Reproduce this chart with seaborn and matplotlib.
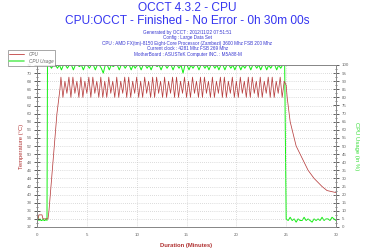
import numpy as np
import pandas as pd
import matplotlib
matplotlib.use('Agg')
import matplotlib.pyplot as plt
from matplotlib.ticker import MultipleLocator
from matplotlib.lines import Line2D
import seaborn as sns

# --- data ---
# temperature (C): idle, ramp, load (0.2 min samples), cool down
t_idle = [0.0, 0.1, 0.2, 0.3, 0.4, 0.5, 0.6, 0.7, 0.8, 0.9, 1.0, 1.1]
temp_idle = [34, 34, 35, 35, 35, 35, 34, 34, 34, 34, 34, 34]

t_ramp = [1.2, 1.3, 1.4, 1.5, 1.6, 1.7, 1.8, 1.9, 2.0, 2.1, 2.2, 2.3]
temp_ramp = [36, 39, 42, 45, 48, 51, 54, 57, 60, 62, 64, 66]

temp_load = [
    69, 64, 68, 65, 69, 64, 69, 65, 68, 64, 69, 64, 68, 65, 69, 64, 69, 65, 68, 64,
    69, 64, 68, 64, 69, 65, 68, 64, 69, 64, 68, 65, 69, 64, 69, 64, 68, 65, 69, 64,
    68, 64, 69, 65, 68, 64, 69, 64, 69, 65, 68, 64, 69, 64, 68, 65, 69, 64, 69, 64,
    68, 65, 69, 64, 68, 64, 69, 65, 68, 64, 69, 64, 69, 65, 68, 64, 69, 64, 68, 65,
    69, 64, 69, 64, 68, 65, 69, 64, 68, 64, 69, 65, 68, 64, 69, 64, 69, 65, 68, 64,
    69, 64, 68, 65, 69, 64, 69, 64, 68, 65, 69, 64, 68]
load_start, sample_step = 2.4, 0.2

t_cool = [25.0, 25.1, 25.2, 25.3, 25.4, 25.5, 25.6, 25.7, 25.8, 25.9, 26.0, 26.2,
          26.4, 26.6, 26.8, 27.0, 27.2, 27.5, 27.8, 28.2, 28.6, 29.1, 30.0]
temp_cool = [67, 64, 62, 60, 58, 57, 56, 55, 54, 53, 52, 51,
             50, 49, 48, 47, 46, 45, 44, 43, 42, 41, 40.5]

# CPU usage (%)
t_usage_idle = [0.0, 0.05, 0.1, 0.2, 0.3, 0.4, 0.5, 0.6, 0.7, 0.8, 0.9, 1.0]
usage_idle = [4, 8, 5, 4, 5, 4, 4, 5, 4, 4, 5, 4]

usage_load = [
    100, 100, 98, 100, 100, 98, 100, 97, 100, 100, 98, 100, 100, 97, 100, 100, 99, 100, 97, 100,
    100, 98, 100, 100, 97, 100, 100, 98, 95, 100, 100, 97, 100, 99, 100, 100, 97, 100, 100, 98,
    100, 100, 97, 100, 98, 100, 100, 97, 100, 100, 98, 100, 97, 100, 100, 99, 100, 97, 100, 100,
    98, 100, 100, 97, 100, 100, 98, 100, 95, 100, 100, 97, 100, 98, 100, 100, 97, 100, 100, 98,
    100, 97, 100, 100, 98, 100, 97, 100, 100, 97, 100, 100, 98, 100, 97, 100, 100, 97, 100, 98,
    100, 100, 97, 100, 100, 98, 100, 97, 100, 100, 97, 100, 98, 100, 100, 97, 100, 98, 100, 100]
usage_load_start = 1.05

usage_after = [5, 4, 6, 4, 5, 3, 5, 4, 4, 6, 4, 5, 4, 3, 5, 4, 5, 4, 6, 4, 5, 5, 4, 6, 5, 4]
usage_after_start = 25.0

header_lines = [
    'Generated by OCCT : 2012/11/22 07:51:51',
    'Config : Large Data Set',
    'CPU : AMD FX(tm)-8150 Eight-Core Processor (Zambezi) 3600 Mhz FSB 200 Mhz',
    'Current clock : 4281 Mhz FSB 269 Mhz',
    'MotherBoard : ASUSTeK Computer INC. : M5A88-M',
]

# build the series
t_load = [load_start + sample_step * i for i in range(len(temp_load))]
temp_df = pd.DataFrame({
    'minutes': t_idle + t_ramp + t_load + t_cool,
    'temp': temp_idle + temp_ramp + temp_load + temp_cool,
})
t_usage_load = [usage_load_start + sample_step * i for i in range(len(usage_load))]
t_usage_after = [usage_after_start + sample_step * i for i in range(len(usage_after))]
usage_df = pd.DataFrame({
    'minutes': t_usage_idle + t_usage_load + t_usage_after,
    'usage': usage_idle + usage_load + usage_after,
})

sns.set_style('white')
plt.rcParams['font.family'] = ['Liberation Sans', 'DejaVu Sans']

fig = plt.figure(figsize=(3.75, 2.5), dpi=100)
ax = fig.add_axes([0.0987, 0.092, 0.7973, 0.648])

ax2 = ax.twinx()
sns.lineplot(data=usage_df, x='minutes', y='usage', ax=ax2, color='#11F011',
             linewidth=0.7, estimator=None, sort=False)
sns.lineplot(data=temp_df, x='minutes', y='temp', ax=ax, color='#B84040',
             linewidth=0.55, estimator=None, sort=False)
# usage under the temperature line, both above the cream background
ax.set_zorder(2)
ax2.set_zorder(1)
ax.patch.set_visible(False)
ax2.set_facecolor('#FFF8E8')

ax.set_xlim(0, 30)
ax.set_ylim(32, 72)
ax2.set_ylim(0, 100)

ax.xaxis.set_major_locator(MultipleLocator(5))
ax.xaxis.set_minor_locator(MultipleLocator(1))
ax.yaxis.set_major_locator(MultipleLocator(2))
ax.yaxis.set_minor_locator(MultipleLocator(1))
ax2.yaxis.set_major_locator(MultipleLocator(5))
ax2.yaxis.set_minor_locator(MultipleLocator(2.5))

for a in (ax, ax2):
    a.tick_params(which='major', direction='inout', length=4, width=0.6,
                  colors='#444444', labelsize=3.2, pad=2)
    a.tick_params(which='minor', direction='inout', length=2, width=0.5, colors='#444444')
    for s in a.spines.values():
        s.set_color('#888888')
        s.set_linewidth(0.7)
ax2.tick_params(axis='y', labelcolor='#666666')
ax.tick_params(axis='both', labelcolor='#666666')

ax.grid(True, which='major', axis='y', color='#BBBBBB', linestyle=(0, (1, 2)), linewidth=0.5)
ax2.grid(False)
for xv in [5, 10, 15, 20, 25]:
    ax2.axvline(xv, color='#BBBBBB', linestyle=(0, (1, 2)), linewidth=0.5, zorder=0)
ax.xaxis.grid(False)

ax.set_xlabel('Duration (Minutes)', fontsize=4.2, color='#B03030', fontweight='bold', labelpad=5)
ax.set_ylabel('Temperature (°C)', fontsize=4.2, color='#B03030', labelpad=2)
ax2.set_ylabel('CPU Usage (in %)', fontsize=4.2, color='#33DD33', rotation=270, labelpad=7)

fig.text(0.5, 0.968, 'OCCT 4.3.2 - CPU', ha='center', va='center', fontsize=8.6, color='#3535F0')
fig.text(0.5, 0.916, 'CPU:OCCT - Finished - No Error - 0h 30m 00s', ha='center', va='center',
         fontsize=8.6, color='#3535F0')
for i, line in enumerate(header_lines):
    fig.text(0.5, 0.871 - 0.0218 * i, line, ha='center', va='center', fontsize=3.3, color='#3535D0')

handles = [Line2D([], [], color='#C04040', linewidth=0.6),
           Line2D([], [], color='#66EE66', linewidth=1.2)]
leg = fig.legend(handles, ['CPU', 'CPU Usage'], loc='upper left', bbox_to_anchor=(0.014, 0.81),
                 fontsize=3.3, frameon=True, fancybox=False, handlelength=3.2,
                 borderpad=0.4, labelspacing=0.5, handletextpad=1.0)
leg.get_frame().set_edgecolor('#666666')
leg.get_frame().set_linewidth(0.5)
for txt in leg.get_texts():
    txt.set_color('#666666')
    txt.set_style('italic')

fig.savefig('out.png', dpi=100, facecolor='white')
